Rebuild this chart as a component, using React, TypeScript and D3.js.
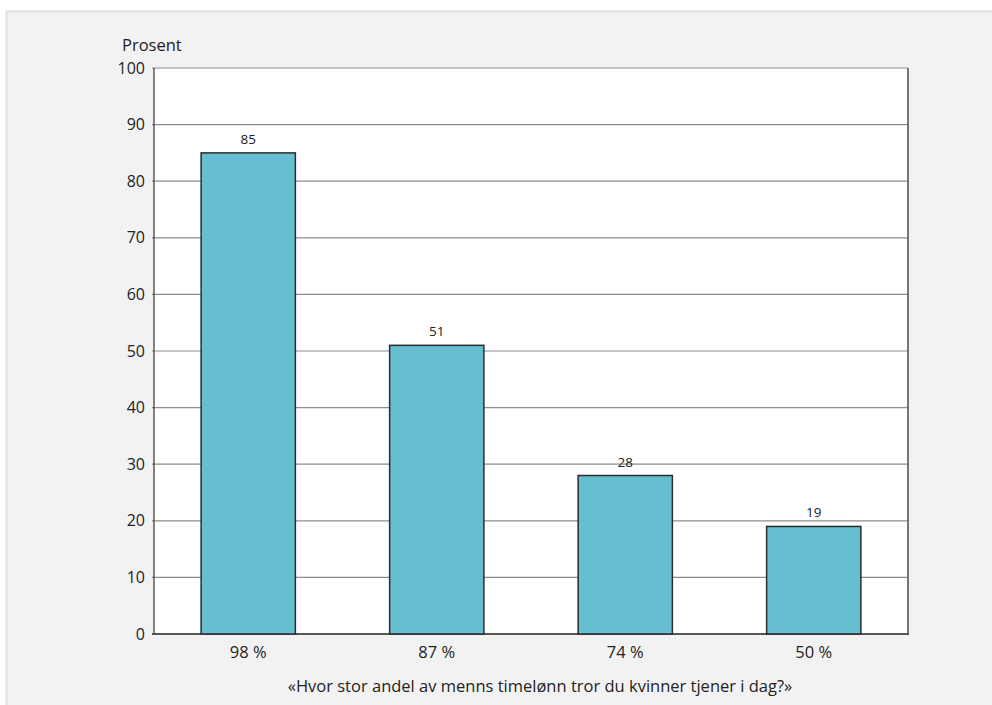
import React from "react";
import * as d3 from "d3";

const categories = ["98 %", "87 %", "74 %", "50 %"];
const values = [85, 51, 28, 19];
const yTicks = [0, 10, 20, 30, 40, 50, 60, 70, 80, 90, 100];
const yLabel = "Prosent";
const xTitle = "«Hvor stor andel av menns timelønn tror du kvinner tjener i dag?»";

const W = 992;
const H = 705;
const M = { left: 154, top: 68, right: 908, bottom: 634 };
const FONT = "'Source Sans Pro', 'Open Sans', 'Noto Sans', sans-serif";

export default function App() {
  const x = d3
    .scaleBand<string>()
    .domain(categories)
    .range([M.left, M.right])
    .paddingInner(0.5)
    .paddingOuter(0.25);
  const y = d3.scaleLinear().domain([0, 100]).range([M.bottom, M.top]);

  return (
    <svg
      width={W}
      height={H}
      style={{ position: "absolute", left: 0, top: 0, display: "block" }}
      fontFamily={FONT}
    >
      <rect x={0} y={0} width={W} height={H} fill="#ffffff" />
      <rect x={6} y={11} width={W - 6} height={H - 11} fill="#f2f2f2" />
      <line x1={6} x2={W} y1={11.5} y2={11.5} stroke="#e0e0e0" strokeWidth={2} />
      <line x1={6.5} x2={6.5} y1={11} y2={H} stroke="#e0e0e0" strokeWidth={2} />

      <rect
        x={M.left}
        y={M.top}
        width={M.right - M.left}
        height={M.bottom - M.top}
        fill="#ffffff"
      />
      {yTicks.map((t) => (
        <g key={t}>
          {t > 0 && (
            <line
              x1={M.left - 2}
              x2={M.right}
              y1={y(t)}
              y2={y(t)}
              stroke="#8c8c8c"
              strokeWidth={1.2}
            />
          )}
          <text
            x={M.left - 9}
            y={y(t)}
            dy="0.35em"
            textAnchor="end"
            fontSize={16}
            fill="#222"
          >
            {t}
          </text>
        </g>
      ))}
      {/* plot frame */}
      <line x1={M.right} x2={M.right} y1={M.top} y2={M.bottom} stroke="#555" strokeWidth={1.6} />
      <line x1={M.left} x2={M.left} y1={M.top} y2={M.bottom} stroke="#333" strokeWidth={1.2} />
      <line x1={M.left - 2} x2={M.right + 1} y1={M.bottom} y2={M.bottom} stroke="#555" strokeWidth={1.8} />

      {categories.map((c, i) => {
        const bx = x(c)!;
        const bw = x.bandwidth();
        const v = values[i];
        return (
          <g key={c}>
            <rect
              x={bx}
              y={y(v)}
              width={bw}
              height={y(0) - y(v)}
              fill="#66bfd1"
              stroke="#2b2b2b"
              strokeWidth={1.5}
            />
            <text
              x={bx + bw / 2}
              y={y(v) - 9}
              textAnchor="middle"
              fontSize={13.5}
              fill="#222"
            >
              {v}
            </text>
            <text
              x={bx + bw / 2}
              y={M.bottom + 24}
              textAnchor="middle"
              fontSize={16.5}
              fill="#222"
            >
              {c}
            </text>
          </g>
        );
      })}

      <text x={122} y={51} fontSize={16.5} fill="#222">
        {yLabel}
      </text>
      <text
        x={(M.left + M.right) / 2 + 9}
        y={692}
        textAnchor="middle"
        fontSize={16.5}
        fill="#222"
      >
        {xTitle}
      </text>
    </svg>
  );
}
